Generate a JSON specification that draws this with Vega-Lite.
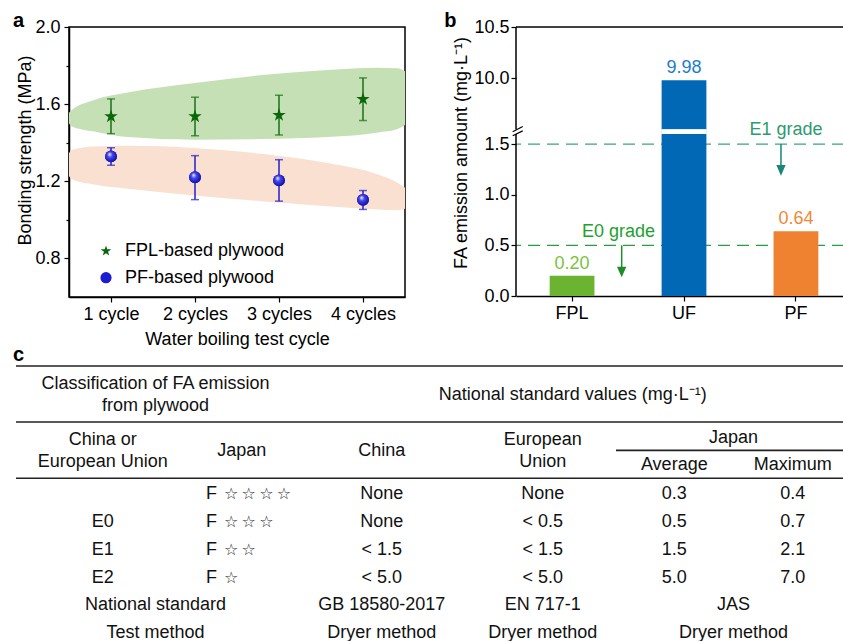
{
  "$schema": "https://vega.github.io/schema/vega-lite/v6.json",
  "background": "white",
  "padding": {"left": 12, "top": 10, "right": 0, "bottom": 0},
  "spacing": -4,
  "config": {
    "view": {"stroke": null},
    "font": "Liberation Sans",
    "axis": {
      "labelFont": "Liberation Sans", "titleFont": "Liberation Sans",
      "labelFontSize": 18, "titleFontSize": 18, "titleFontWeight": "normal",
      "labelColor": "#000", "titleColor": "#000", "tickColor": "#000", "domainColor": "#000",
      "grid": false, "labelOverlap": false, "tickWidth": 1.2, "domainWidth": 1.5
    },
    "title": {"font": "Liberation Sans", "fontSize": 20, "fontWeight": "bold", "color": "#000", "anchor": "start", "baseline": "alphabetic", "frame": "group"}
  },
  "datasets": {
    "bond": [
      {"cycle": 1, "series": "FPL-based plywood", "mean": 1.536, "lo": 1.447, "hi": 1.627},
      {"cycle": 2, "series": "FPL-based plywood", "mean": 1.536, "lo": 1.436, "hi": 1.636},
      {"cycle": 3, "series": "FPL-based plywood", "mean": 1.543, "lo": 1.440, "hi": 1.646},
      {"cycle": 4, "series": "FPL-based plywood", "mean": 1.626, "lo": 1.515, "hi": 1.736},
      {"cycle": 1, "series": "PF-based plywood", "mean": 1.329, "lo": 1.283, "hi": 1.374},
      {"cycle": 2, "series": "PF-based plywood", "mean": 1.221, "lo": 1.105, "hi": 1.333},
      {"cycle": 3, "series": "PF-based plywood", "mean": 1.205, "lo": 1.097, "hi": 1.312},
      {"cycle": 4, "series": "PF-based plywood", "mean": 1.104, "lo": 1.054, "hi": 1.152}
    ],
    "bandFPL": [
      {"x": 0.5, "top": 1.555, "bottom": 1.5},
      {"x": 0.53, "top": 1.568, "bottom": 1.486},
      {"x": 0.8, "top": 1.622, "bottom": 1.458},
      {"x": 1.2, "top": 1.66, "bottom": 1.429},
      {"x": 2.0, "top": 1.709, "bottom": 1.416},
      {"x": 2.8, "top": 1.751, "bottom": 1.419},
      {"x": 3.58, "top": 1.777, "bottom": 1.429},
      {"x": 4.18, "top": 1.789, "bottom": 1.453},
      {"x": 4.41, "top": 1.786, "bottom": 1.471},
      {"x": 4.5, "top": 1.77, "bottom": 1.492}
    ],
    "bandPF": [
      {"x": 0.5, "top": 1.345, "bottom": 1.228},
      {"x": 0.53, "top": 1.362, "bottom": 1.212},
      {"x": 0.8, "top": 1.381, "bottom": 1.183},
      {"x": 1.2, "top": 1.384, "bottom": 1.161},
      {"x": 1.99, "top": 1.373, "bottom": 1.126},
      {"x": 2.79, "top": 1.343, "bottom": 1.097},
      {"x": 3.58, "top": 1.295, "bottom": 1.071},
      {"x": 4.18, "top": 1.235, "bottom": 1.054},
      {"x": 4.41, "top": 1.192, "bottom": 1.05},
      {"x": 4.5, "top": 1.166, "bottom": 1.057}
    ],
    "emission": [
      {"resin": "FPL", "value": 0.20},
      {"resin": "UF", "value": 9.98},
      {"resin": "PF", "value": 0.64}
    ],
    "headers": [
      {"row": 1, "col": 1.38, "text": "Classification of FA emission\nfrom plywood"},
      {"row": 3, "col": 1, "text": "China or\nEuropean Union"},
      {"row": 3, "col": 4, "text": "European\nUnion"}
    ],
    "cells": [
      {"row": 1, "col": 4.228, "text": "National standard values (mg·L⁻¹)"},
      {"row": 3, "col": 2, "text": "Japan"},
      {"row": 3, "col": 3, "text": "China"},
      {"row": 2.54, "col": 5.5, "text": "Japan"},
      {"row": 3.51, "col": 5, "text": "Average"},
      {"row": 3.51, "col": 6, "text": "Maximum"},
      {"row": 5, "col": 3, "text": "None"},
      {"row": 5, "col": 4, "text": "None"},
      {"row": 5, "col": 5, "text": "0.3"},
      {"row": 5, "col": 6, "text": "0.4"},
      {"row": 6, "col": 1, "text": "E0"},
      {"row": 6, "col": 3, "text": "None"},
      {"row": 6, "col": 4, "text": "< 0.5"},
      {"row": 6, "col": 5, "text": "0.5"},
      {"row": 6, "col": 6, "text": "0.7"},
      {"row": 7, "col": 1, "text": "E1"},
      {"row": 7, "col": 3, "text": "< 1.5"},
      {"row": 7, "col": 4, "text": "< 1.5"},
      {"row": 7, "col": 5, "text": "1.5"},
      {"row": 7, "col": 6, "text": "2.1"},
      {"row": 8, "col": 1, "text": "E2"},
      {"row": 8, "col": 3, "text": "< 5.0"},
      {"row": 8, "col": 4, "text": "< 5.0"},
      {"row": 8, "col": 5, "text": "5.0"},
      {"row": 8, "col": 6, "text": "7.0"},
      {"row": 9, "col": 1.38, "text": "National standard"},
      {"row": 9, "col": 3, "text": "GB 18580-2017"},
      {"row": 9, "col": 4, "text": "EN 717-1"},
      {"row": 9, "col": 5.5, "text": "JAS"},
      {"row": 10, "col": 1.38, "text": "Test method"},
      {"row": 10, "col": 3, "text": "Dryer method"},
      {"row": 10, "col": 4, "text": "Dryer method"},
      {"row": 10, "col": 5.5, "text": "Dryer method"}
    ],
    "japanClass": [
      {"row": 5, "col": 1.743, "grade": "F", "stars": "☆\u2009☆\u2009☆\u2009☆"},
      {"row": 6, "col": 1.743, "grade": "F", "stars": "☆\u2009☆\u2009☆"},
      {"row": 7, "col": 1.743, "grade": "F", "stars": "☆\u2009☆"},
      {"row": 8, "col": 1.743, "grade": "F", "stars": "☆"}
    ],
    "rules": [
      {"row": 0, "c1": 0, "c2": 7},
      {"row": 2, "c1": 0, "c2": 7},
      {"row": 2.98, "c1": 4.557, "c2": 7},
      {"row": 4, "c1": 0, "c2": 7}
    ]
  },
  "vconcat": [
    {
      "bounds": "flush",
      "spacing": 111,
      "resolve": {
        "scale": {"color": "independent", "fill": "independent", "shape": "independent"},
        "legend": {"color": "independent", "fill": "independent", "shape": "independent"}
      },
      "hconcat": [
        {
          "width": 336,
          "height": 270,
          "view": {"stroke": "#000", "strokeWidth": 1.5},
          "title": {"text": "a", "dx": -56, "offset": -13},
          "layer": [
            {
              "data": {"name": "bandFPL"},
              "mark": {"type": "area", "interpolate": "monotone", "color": "#c5e0b4"},
              "encoding": {
                "x": {
                  "field": "x", "type": "quantitative",
                  "scale": {"domain": [0.5, 4.5], "nice": false, "zero": false},
                  "axis": {
                    "values": [1, 2, 3, 4],
                    "labelExpr": "datum.value == 1 ? '1 cycle' : datum.value + ' cycles'",
                    "tickSize": 5, "labelPadding": 3,
                    "title": "Water boiling test cycle", "titlePadding": 7
                  }
                },
                "y": {
                  "field": "top", "type": "quantitative",
                  "scale": {"domain": [0.6, 2.0], "nice": false, "zero": false},
                  "axis": {
                    "values": [0.8, 1.0, 1.2, 1.4, 1.6, 1.8, 2.0],
                    "labelExpr": "round(datum.value * 10) % 4 == 0 ? format(datum.value, '.1f') : ''",
                    "tickSize": {"condition": {"test": "round(datum.value * 10) % 4 == 0", "value": 5}, "value": 3},
                    "labelPadding": 4,
                    "title": "Bonding strength (MPa)",
                    "titleX": -39, "titleY": 123, "titleAngle": -90,
                    "titleAlign": "center", "titleBaseline": "alphabetic"
                  }
                },
                "y2": {"field": "bottom"}
              }
            },
            {
              "data": {"name": "bandPF"},
              "mark": {"type": "area", "interpolate": "monotone", "color": "#f9e0d0"},
              "encoding": {
                "x": {"field": "x", "type": "quantitative"},
                "y": {"field": "top", "type": "quantitative"},
                "y2": {"field": "bottom"}
              }
            },
            {
              "data": {"name": "bond"},
              "mark": {"type": "rule", "strokeWidth": 1.5},
              "encoding": {
                "x": {"field": "cycle", "type": "quantitative"},
                "y": {"field": "lo", "type": "quantitative"},
                "y2": {"field": "hi"},
                "stroke": {"condition": {"test": "datum.series == 'PF-based plywood'", "value": "#2020cc"}, "value": "#187218"}
              }
            },
            {
              "data": {"name": "bond"},
              "mark": {"type": "tick", "orient": "horizontal", "size": 8, "thickness": 1.5},
              "encoding": {
                "x": {"field": "cycle", "type": "quantitative"},
                "y": {"field": "lo", "type": "quantitative"},
                "fill": {"condition": {"test": "datum.series == 'PF-based plywood'", "value": "#2020cc"}, "value": "#187218"}
              }
            },
            {
              "data": {"name": "bond"},
              "mark": {"type": "tick", "orient": "horizontal", "size": 8, "thickness": 1.5},
              "encoding": {
                "x": {"field": "cycle", "type": "quantitative"},
                "y": {"field": "hi", "type": "quantitative"},
                "fill": {"condition": {"test": "datum.series == 'PF-based plywood'", "value": "#2020cc"}, "value": "#187218"}
              }
            },
            {
              "data": {"name": "bond"},
              "mark": {"type": "point", "filled": true, "opacity": 1},
              "encoding": {
                "x": {"field": "cycle", "type": "quantitative"},
                "y": {"field": "mean", "type": "quantitative"},
                "size": {"condition": {"test": "datum.series == 'FPL-based plywood'", "value": 200}, "value": 140},
                "color": {
                  "field": "series", "type": "nominal",
                  "scale": {"domain": ["FPL-based plywood", "PF-based plywood"], "range": ["#0b660b", "#1c1cd0"]},
                  "legend": {
                    "title": null, "orient": "none", "legendX": 28, "legendY": 215,
                    "labelFontSize": 18, "labelFont": "Liberation Sans", "labelColor": "#000",
                    "symbolSize": 125, "labelOffset": 10, "rowPadding": 8.7, "padding": 0
                  }
                },
                "shape": {
                  "field": "series", "type": "nominal",
                  "scale": {
                    "domain": ["FPL-based plywood", "PF-based plywood"],
                    "range": ["M0,-1L0.2245,-0.309L0.951,-0.309L0.363,0.118L0.588,0.809L0,0.382L-0.588,0.809L-0.363,0.118L-0.951,-0.309L-0.2245,-0.309Z", "circle"]
                  },
                  "legend": {
                    "title": null, "orient": "none", "legendX": 28, "legendY": 215,
                    "labelFontSize": 18, "labelFont": "Liberation Sans", "labelColor": "#000",
                    "symbolSize": 125, "labelOffset": 10, "rowPadding": 8.7, "padding": 0
                  }
                }
              }
            },
            {
              "data": {"name": "bond"},
              "transform": [{"filter": "datum.series == 'PF-based plywood'"}],
              "mark": {
                "type": "point", "filled": true, "shape": "circle", "size": 140, "opacity": 1, "strokeWidth": 0,
                "fill": {
                  "gradient": "radial", "x1": 0.38, "y1": 0.32, "r1": 0.02, "x2": 0.45, "y2": 0.45, "r2": 0.6,
                  "stops": [
                    {"offset": 0, "color": "#e6e6ff"},
                    {"offset": 0.35, "color": "#4646ee"},
                    {"offset": 1, "color": "#0a0a9c"}
                  ]
                }
              },
              "encoding": {
                "x": {"field": "cycle", "type": "quantitative"},
                "y": {"field": "mean", "type": "quantitative"}
              }
            }
          ]
        },
        {
          "width": 328,
          "height": 269,
          "title": {"text": "b", "dx": -71.7, "offset": -13},
          "resolve": {"scale": {"x": "independent"}, "axis": {"x": "independent"}},
          "layer": [
            {
              "data": {"values": [{}]},
              "mark": {"type": "rule", "strokeDash": [12, 7], "strokeWidth": 1.3, "color": "#2a9c45"},
              "encoding": {
                "y": {"datum": 0.5, "type": "quantitative", "scale": {"domain": [0, 1.6, 9.5, 10.5], "range": [269, 106.9, 102.6, 0], "nice": false, "zero": false}}
              }
            },
            {
              "data": {"values": [{}]},
              "mark": {"type": "rule", "strokeDash": [12, 7], "strokeWidth": 1.3, "color": "#3aa47c"},
              "encoding": {
                "y": {"datum": 1.5, "type": "quantitative", "scale": {"domain": [0, 1.6, 9.5, 10.5], "range": [269, 106.9, 102.6, 0], "nice": false, "zero": false}}
              }
            },
            {
              "data": {"name": "emission"},
              "layer": [
                {
                  "mark": {"type": "bar"},
                  "encoding": {
                    "x": {
                      "field": "resin", "type": "nominal", "sort": ["FPL", "UF", "PF"],
                      "scale": {"type": "band", "domain": ["FPL", "UF", "PF"], "paddingInner": 0.6, "paddingOuter": 0.265, "align": 0.5675},
                      "axis": {"title": null, "labelAngle": 0, "tickSize": 5, "labelPadding": 3, "domain": true}
                    },
                    "y": {
                      "field": "value", "type": "quantitative",
                      "scale": {"domain": [0, 1.6, 9.5, 10.5], "range": [269, 106.9, 102.6, 0], "nice": false, "zero": false},
                      "axis": {
                        "values": [0, 0.25, 0.5, 0.75, 1, 1.25, 1.5, 9.75, 10, 10.25, 10.5],
                        "labelExpr": "datum.value * 2 == round(datum.value * 2) ? format(datum.value, '.1f') : ''",
                        "tickSize": {"condition": {"test": "datum.value * 2 == round(datum.value * 2)", "value": 5}, "value": 3},
                        "domain": false, "labelPadding": 2,
                        "title": "FA emission amount (mg·L⁻¹)",
                        "titleX": -49.3, "titleY": 125.5, "titleAngle": -90,
                        "titleAlign": "center", "titleBaseline": "alphabetic"
                      }
                    },
                    "fill": {
                      "field": "resin", "type": "nominal",
                      "scale": {"domain": ["FPL", "UF", "PF"], "range": ["#6bb431", "#0068b5", "#ee8230"]},
                      "legend": null
                    }
                  }
                },
                {
                  "mark": {"type": "bar", "color": "white"},
                  "encoding": {
                    "x": {"datum": "UF", "type": "nominal"},
                    "y": {"datum": 1.6, "type": "quantitative"},
                    "y2": {"datum": 9.5}
                  }
                },
                {
                  "mark": {"type": "text", "fontSize": 18, "baseline": "alphabetic", "align": "center", "dy": -7},
                  "encoding": {
                    "x": {"field": "resin", "type": "nominal"},
                    "y": {"field": "value", "type": "quantitative"},
                    "text": {"field": "value", "type": "quantitative", "format": ".2f"},
                    "color": {
                      "field": "resin", "type": "nominal",
                      "scale": {"domain": ["FPL", "UF", "PF"], "range": ["#7cc240", "#1d7dcc", "#f08935"]},
                      "legend": null
                    }
                  }
                }
              ]
            },
            {
              "data": {"values": [{}]},
              "layer": [
                {
                  "mark": {"type": "rule", "strokeWidth": 1.5, "color": "#000"},
                  "encoding": {
                    "x": {"datum": 0, "type": "quantitative", "scale": {"domain": [0, 2.93], "nice": false, "zero": false}, "axis": null},
                    "y": {"datum": 0, "type": "quantitative", "scale": {"domain": [0, 1.6, 9.5, 10.5], "range": [269, 106.9, 102.6, 0], "nice": false, "zero": false}},
                    "y2": {"datum": 1.6}
                  }
                },
                {
                  "mark": {"type": "rule", "strokeWidth": 1.5, "color": "#000"},
                  "encoding": {
                    "x": {"datum": 0, "type": "quantitative"},
                    "y": {"datum": 9.5, "type": "quantitative"},
                    "y2": {"datum": 10.5}
                  }
                },
                {
                  "mark": {"type": "rule", "strokeWidth": 1.5, "color": "#000"},
                  "encoding": {
                    "x": {"datum": 0, "type": "quantitative"},
                    "x2": {"datum": 2.93},
                    "y": {"datum": 10.5, "type": "quantitative"}
                  }
                },
                {
                  "mark": {"type": "rule", "strokeWidth": 1.2, "color": "#000"},
                  "encoding": {
                    "x": {"datum": -0.0295, "type": "quantitative"},
                    "x2": {"datum": 0.0598},
                    "y": {"datum": 5.38, "type": "quantitative"},
                    "y2": {"datum": 9.531}
                  }
                },
                {
                  "mark": {"type": "rule", "strokeWidth": 1.2, "color": "#000"},
                  "encoding": {
                    "x": {"datum": -0.0295, "type": "quantitative"},
                    "x2": {"datum": 0.0598},
                    "y": {"datum": 1.582, "type": "quantitative"},
                    "y2": {"datum": 7.09}
                  }
                },
                {
                  "mark": {"type": "text", "text": "E0 grade", "fontSize": 18, "align": "center", "baseline": "alphabetic", "color": "#22a12e"},
                  "encoding": {
                    "x": {"datum": 0.9156, "type": "quantitative"},
                    "y": {"datum": 0.585, "type": "quantitative"}
                  }
                },
                {
                  "mark": {"type": "text", "text": "E1 grade", "fontSize": 18, "align": "center", "baseline": "alphabetic", "color": "#2b9b70"},
                  "encoding": {
                    "x": {"datum": 2.412, "type": "quantitative"},
                    "y": {"datum": 1.589, "type": "quantitative"}
                  }
                },
                {
                  "mark": {"type": "rule", "strokeWidth": 1.5, "color": "#1e8d28"},
                  "encoding": {
                    "x": {"datum": 0.944, "type": "quantitative"},
                    "y": {"datum": 0.5, "type": "quantitative"},
                    "y2": {"datum": 0.28}
                  }
                },
                {
                  "mark": {"type": "point", "filled": true, "opacity": 1, "size": 115, "color": "#1e8d28", "shape": "M-0.87,-1L0.87,-1L0,1Z"},
                  "encoding": {
                    "x": {"datum": 0.944, "type": "quantitative"},
                    "y": {"datum": 0.237, "type": "quantitative"}
                  }
                },
                {
                  "mark": {"type": "rule", "strokeWidth": 1.5, "color": "#18867a"},
                  "encoding": {
                    "x": {"datum": 2.367, "type": "quantitative"},
                    "y": {"datum": 1.5, "type": "quantitative"},
                    "y2": {"datum": 1.28}
                  }
                },
                {
                  "mark": {"type": "point", "filled": true, "opacity": 1, "size": 115, "color": "#18867a", "shape": "M-0.87,-1L0.87,-1L0,1Z"},
                  "encoding": {
                    "x": {"datum": 2.367, "type": "quantitative"},
                    "y": {"datum": 1.239, "type": "quantitative"}
                  }
                }
              ]
            }
          ]
        }
      ]
    },
    {
      "width": 775,
      "height": 270,
      "title": {"text": "c", "dx": -56, "offset": 0},
      "layer": [
        {
          "data": {"name": "rules"},
          "mark": {"type": "rule", "strokeWidth": 1.6, "color": "#222"},
          "encoding": {
            "x": {"field": "c1", "type": "quantitative", "scale": {"domain": [0, 1, 2, 3, 4, 5, 6, 7], "range": [-53, 33.7, 172.8, 312.8, 473.7, 605.3, 723.7, 775], "nice": false, "zero": false}, "axis": null},
            "x2": {"field": "c2"},
            "y": {"field": "row", "type": "quantitative", "scale": {"domain": [0, 1, 2, 3, 4, 5, 10], "range": [0, 29, 56, 85, 112.3, 128.3, 267], "nice": false, "zero": false}, "axis": null}
          }
        },
        {
          "data": {"name": "headers"},
          "mark": {"type": "text", "fontSize": 18, "align": "center", "baseline": "middle", "lineBreak": "\n", "lineHeight": 22, "dy": -11, "color": "#111"},
          "encoding": {
            "x": {"field": "col", "type": "quantitative"},
            "y": {"field": "row", "type": "quantitative"},
            "text": {"field": "text", "type": "nominal"}
          }
        },
        {
          "data": {"name": "cells"},
          "mark": {"type": "text", "fontSize": 18, "align": "center", "baseline": "middle", "color": "#111"},
          "encoding": {
            "x": {"field": "col", "type": "quantitative"},
            "y": {"field": "row", "type": "quantitative"},
            "text": {"field": "text", "type": "nominal"}
          }
        },
        {
          "data": {"name": "japanClass"},
          "mark": {"type": "text", "fontSize": 18, "align": "left", "baseline": "middle", "color": "#111"},
          "encoding": {
            "x": {"field": "col", "type": "quantitative"},
            "y": {"field": "row", "type": "quantitative"},
            "text": {"field": "grade", "type": "nominal"}
          }
        },
        {
          "data": {"name": "japanClass"},
          "mark": {"type": "text", "font": "DejaVu Sans", "fontSize": 16, "align": "left", "baseline": "middle", "dx": 18, "color": "#333"},
          "encoding": {
            "x": {"field": "col", "type": "quantitative"},
            "y": {"field": "row", "type": "quantitative"},
            "text": {"field": "stars", "type": "nominal"}
          }
        }
      ]
    }
  ]
}
